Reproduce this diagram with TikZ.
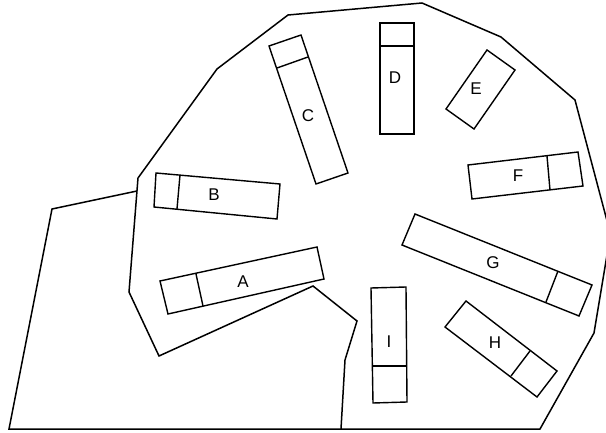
\documentclass[tikz,border=0pt]{standalone}
\usepackage{fontspec}
\setmainfont{Liberation Sans}
\tikzset{
  outline/.style={line width=1.5pt, draw=black, line join=miter},
  bay/.style={line width=1.4pt, draw=black, line join=miter},
  baylabel/.style={font=\fontsize{17}{20}\selectfont, inner sep=0pt},
}

\begin{document}
\begin{tikzpicture}[x=1pt, y=-1pt]
\useasboundingbox (0,0) rectangle (606,433);
\clip (0,0) rectangle (606,433);

% Hall outline
\draw[outline] (138,178) -- (217,69) -- (288,15) -- (422,3) -- (501,37) -- (575,100)
  -- (610.5,234) -- (594,333) -- (540,429) -- (9,429) -- (52,209) -- (137,191);
\draw[outline] (138,178) -- (129,292) -- (159,356) -- (313,286) -- (357,321)
  -- (345,360) -- (341,429);

% Bays with a divider: four corners, then the two divider ends
\foreach \p/\q/\r/\s/\u/\v in {
  {160,281}/{317,247}/{324,279}/{168,314}/{196,274}/{203,306},
  {156,173}/{280,184}/{277,219}/{154,207}/{180,175}/{177,209},
  {269,46}/{301,35}/{348,173}/{316,184}/{277,68}/{308,57},
  {380,23}/{414,23}/{414,134}/{380,134}/{380,46}/{414,46},
  {468,165}/{578,152}/{583,186}/{472,199}/{547,156}/{550,190},
  {415,214}/{592,285}/{579,316}/{402,245}/{558,271}/{546,302},
  {466,301}/{557,371}/{537,397}/{445,327}/{530,351}/{511,376},
  {371,288}/{406,287}/{407,402}/{373,403}/{373,366}/{407,366}}
{
  \draw[bay] (\p) -- (\q) -- (\r) -- (\s) -- cycle;
  \draw[bay] (\u) -- (\v);
}

% Bay without a divider
\draw[bay] (487,50) -- (515,70) -- (474,129) -- (446,109) -- cycle;

% Labels
\node[baylabel] (labA) at (243,282) {A};
\node[baylabel] (labB) at (214,195) {B};
\node[baylabel] (labC) at (308,116) {C};
\node[baylabel] (labD) at (395,78) {D};
\node[baylabel] (labE) at (476,89) {E};
\node[baylabel] (labF) at (518,176) {F};
\node[baylabel] (labG) at (493,263) {G};
\node[baylabel] (labH) at (495,343) {H};
\node[baylabel] (labI) at (389,342) {I};

\end{tikzpicture}
\end{document}
